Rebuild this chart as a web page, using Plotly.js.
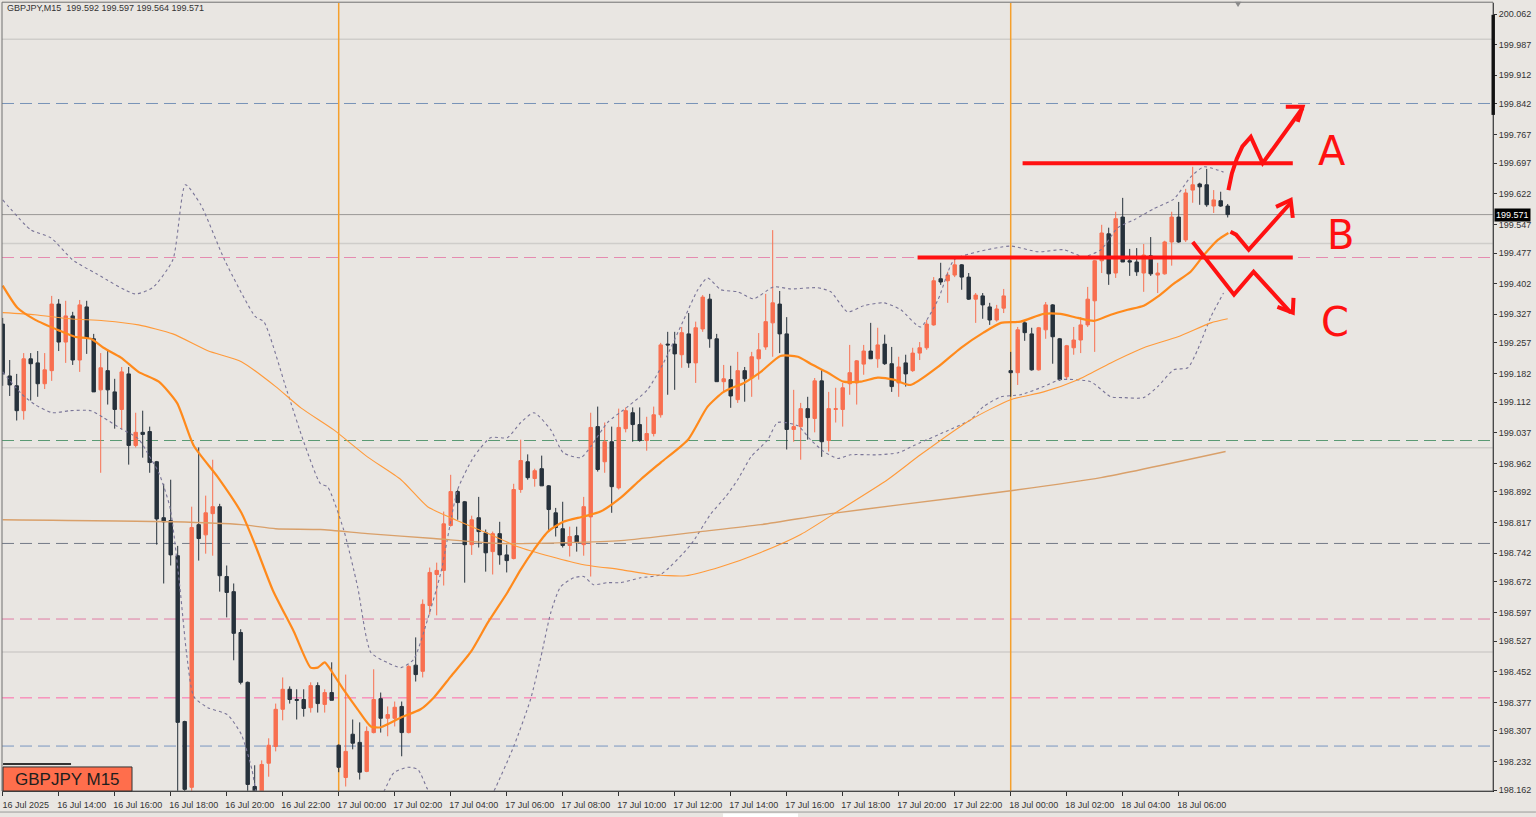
<!DOCTYPE html>
<html>
<head>
<meta charset="utf-8">
<script src="https://cdn.plot.ly/plotly-3.0.1.min.js"></script>
<style>
  html, body { margin: 0; padding: 0; background: #e9e6e2; }
  #chart { width: 1536px; height: 817px; }
</style>
</head>
<body>
<div id="chart"></div>
<script>
// ---------- Data (GBPJPY M15, bars from 16 Jul 2025 12:00) ----------
const OPEN = [199.303,199.176,199.152,199.091,199.218,199.208,199.157,199.189,199.352,199.259,
199.323,199.215,199.345,199.267,199.142,199.189,199.137,199.094,199.181,199.006,
199.038,199.040,198.966,198.829,198.822,198.736,198.330,198.169,198.812,198.787,
198.839,198.856,198.685,198.648,198.548,198.426,198.171,198.146,198.228,198.269,
198.360,198.409,198.384,198.384,198.364,198.418,198.372,198.401,198.272,198.193,
198.299,198.279,198.208,198.303,198.386,198.338,198.338,198.367,198.303,198.468,
198.453,198.614,198.690,198.700,198.810,198.893,198.868,198.763,198.829,198.792,
198.746,198.790,198.738,198.729,198.898,198.966,198.925,198.949,198.907,198.841,
198.802,198.761,198.785,198.763,198.831,199.052,198.966,199.015,198.902,199.047,
199.086,199.057,199.018,199.035,199.081,199.254,199.254,199.228,199.279,199.208,
199.291,199.364,199.267,199.162,199.167,199.118,199.189,199.171,199.218,199.247,
199.306,199.352,199.279,199.045,199.052,199.096,199.072,199.164,199.018,199.094,
199.094,199.157,199.159,199.205,199.237,199.218,199.254,199.206,199.159,199.208,
199.189,199.232,199.245,199.301,199.414,199.409,199.423,199.448,199.418,199.364,
199.372,199.345,199.313,199.342,199.189,199.184,199.306,199.279,199.191,199.289,
199.350,199.267,199.174,199.245,199.264,199.301,199.360,199.458,199.524,199.428,
199.565,199.458,199.455,199.428,199.470,199.423,199.426,199.504,199.565,199.509,
199.631,199.646,199.644,199.592,199.605,199.592];
const HIGH = [199.318,199.215,199.181,199.232,199.232,199.237,199.232,199.372,199.364,199.360,
199.333,199.362,199.360,199.279,199.232,199.240,199.169,199.198,199.198,199.086,
199.091,199.052,198.968,198.912,198.922,198.760,198.332,198.856,199.001,198.883,
198.971,198.863,198.712,198.668,198.556,198.428,198.223,198.235,198.289,198.374,
198.438,198.416,198.409,198.409,198.426,198.426,198.409,198.475,198.274,198.445,
198.335,198.328,198.318,198.458,198.401,198.367,198.379,198.379,198.468,198.536,
198.629,198.707,198.719,198.844,198.934,198.898,198.870,198.834,198.880,198.800,
198.795,198.819,198.763,198.912,199.020,198.984,198.949,198.981,198.909,198.853,
198.868,198.807,198.807,198.880,199.086,199.101,199.062,199.052,199.096,199.099,
199.099,199.099,199.076,199.101,199.257,199.284,199.284,199.296,199.330,199.309,
199.374,199.377,199.279,199.203,199.201,199.235,199.198,199.235,199.281,199.377,
199.533,199.384,199.320,199.142,199.110,199.125,199.171,199.193,199.137,199.147,
199.159,199.252,199.215,199.252,199.306,199.294,199.277,199.247,199.223,199.228,
199.245,199.259,199.313,199.418,199.453,199.431,199.468,199.450,199.428,199.379,
199.379,199.355,199.350,199.389,199.235,199.296,199.311,199.294,199.296,199.357,
199.352,199.269,199.252,199.296,199.320,199.394,199.460,199.546,199.539,199.578,
199.612,199.487,199.489,199.499,199.516,199.453,199.507,199.578,199.602,199.634,
199.688,199.649,199.683,199.631,199.627,199.597];
const LOW = [199.152,199.127,199.067,199.069,199.116,199.125,199.144,199.164,199.237,199.208,
199.203,199.186,199.230,199.137,198.939,199.106,199.047,199.045,198.959,199.001,
198.976,198.939,198.763,198.668,198.712,198.146,198.115,198.115,198.724,198.741,
198.736,198.648,198.585,198.480,198.421,198.134,198.139,198.130,198.195,198.257,
198.333,198.374,198.335,198.342,198.352,198.352,198.352,198.382,198.206,198.171,
198.262,198.188,198.206,198.301,198.303,198.294,198.318,198.245,198.301,198.428,
198.438,198.592,198.590,198.663,198.807,198.824,198.670,198.738,198.756,198.697,
198.690,198.714,198.695,198.727,198.890,198.922,198.905,198.907,198.795,198.783,
198.756,198.734,198.746,198.736,198.685,198.942,198.939,198.841,198.898,199.038,
199.015,199.015,198.993,199.028,199.074,199.130,199.142,199.196,199.196,199.159,
199.284,199.245,199.162,199.135,199.098,199.110,199.113,199.125,199.167,199.240,
199.223,199.232,198.996,199.015,198.971,199.020,199.038,198.978,198.991,199.062,
199.052,199.130,199.106,199.179,199.218,199.196,199.203,199.137,199.125,199.150,
199.186,199.215,199.240,199.299,199.399,199.355,199.418,199.387,199.362,199.306,
199.316,199.301,199.309,199.330,199.125,199.154,199.262,199.189,199.189,199.267,
199.206,199.164,199.167,199.228,199.232,199.296,199.235,199.428,199.399,199.416,
199.455,199.421,199.421,199.382,199.421,199.379,199.424,199.446,199.502,199.504,
199.600,199.595,199.590,199.575,199.590,199.564];
const CLOSE = [199.181,199.154,199.091,199.218,199.206,199.157,199.191,199.352,199.259,199.323,
199.215,199.350,199.269,199.137,199.196,199.142,199.094,199.186,199.006,199.038,
199.033,198.964,198.826,198.819,198.738,198.328,198.164,198.805,198.778,198.841,
198.856,198.687,198.646,198.546,198.426,198.176,198.149,198.225,198.272,198.360,
198.409,198.384,198.382,198.362,198.418,198.374,198.401,198.382,198.218,198.257,
198.277,198.206,198.306,198.384,198.338,198.347,198.365,198.303,198.465,198.445,
198.617,198.695,198.700,198.814,198.893,198.866,198.763,198.824,198.795,198.743,
198.790,198.738,198.724,198.898,198.969,198.927,198.944,198.907,198.849,198.805,
198.761,198.783,198.768,198.856,199.050,198.947,199.015,198.905,199.050,199.091,
199.057,199.018,199.035,199.081,199.252,199.252,199.230,199.282,199.208,199.294,
199.369,199.267,199.162,199.169,199.127,199.189,199.169,199.223,199.240,199.309,
199.355,199.279,199.045,199.052,199.096,199.074,199.164,199.015,199.096,199.096,
199.147,199.184,199.213,199.237,199.218,199.252,199.206,199.150,199.198,199.181,
199.232,199.245,199.303,199.409,199.406,199.423,199.448,199.418,199.364,199.374,
199.350,199.313,199.340,199.372,199.184,199.289,199.282,199.191,199.294,199.350,
199.272,199.167,199.250,199.264,199.301,199.364,199.458,199.526,199.426,199.561,
199.455,199.455,199.431,199.472,199.426,199.428,199.504,199.565,199.504,199.624,
199.644,199.639,199.595,199.607,199.592,199.571];

// time axis labels, one every 8 bars (2 hours)
const TIME_LABELS = ['16 Jul 2025','16 Jul 14:00','16 Jul 16:00','16 Jul 18:00','16 Jul 20:00','16 Jul 22:00',
'17 Jul 00:00','17 Jul 02:00','17 Jul 04:00','17 Jul 06:00','17 Jul 08:00','17 Jul 10:00','17 Jul 12:00',
'17 Jul 14:00','17 Jul 16:00','17 Jul 18:00','17 Jul 20:00','17 Jul 22:00','18 Jul 00:00','18 Jul 02:00',
'18 Jul 04:00','18 Jul 06:00'];
const PRICE_TICKS = [200.062,199.987,199.912,199.842,199.767,199.697,199.622,199.547,199.477,199.402,
199.327,199.257,199.182,199.112,199.037,198.962,198.892,198.817,198.742,198.672,198.597,198.527,
198.452,198.377,198.307,198.232,198.162];

// indicators (bar index, price)
const MA_FAST_X = [0,2.1,4.6,8.1,10.3,12.6,14.4,16.9,19.4,22.3,24.9,27.3,30.7,34.1,36.1,38.6,41.6,44,45,46,47.1,48.7,50.7,52.6,54,56.9,59.7,61.6,64,66.9,69.3,72.1,74,75.9,77.9,80.1,83,85.4,88.3,91.1,94,97.9,100.7,103,105.9,108.3,111.1,113.6,115.4,117.9,120.1,122.6,125,127.3,129.7,133.6,136.9,140.1,142.6,145.4,148.7,151.1,153.6,155.9,158.3,160.7,163,165,167.3,169.7,171.6,173.6,175.1];
const MA_FAST_Y = [199.397,199.343,199.314,199.287,199.272,199.267,199.245,199.221,199.186,199.162,199.110,199.005,198.929,198.841,198.761,198.651,198.550,198.462,198.462,198.475,198.450,198.408,198.360,198.318,198.316,198.340,198.360,198.389,198.440,198.501,198.572,198.646,198.702,198.751,198.795,198.819,198.832,198.844,198.878,198.922,198.964,199.020,199.101,199.137,199.159,199.186,199.225,199.223,199.206,199.184,199.162,199.162,199.172,199.167,199.154,199.198,199.245,199.282,199.306,199.309,199.328,199.328,199.318,199.311,199.326,199.338,199.348,199.370,199.402,199.431,199.472,199.509,199.526];
const MA_MID_X = [0,4.6,9.6,14.4,19.4,24.3,29.3,34.1,39,42.6,47.3,52.1,56.9,60.7,64,68.7,73.6,78.3,83,88.3,92.6,97.6,102.6,108.3,114,119.7,126.4,131.1,138.3,144,148.7,153.6,158.3,163,167.9,172.6,175];
const MA_MID_Y = [199.331,199.326,199.316,199.311,199.301,199.279,199.238,199.211,199.150,199.098,199.044,198.978,198.922,198.856,198.829,198.795,198.758,198.734,198.714,198.702,198.690,198.687,198.709,198.744,198.788,198.849,198.922,198.983,199.069,199.118,199.137,199.167,199.208,199.245,199.272,199.306,199.316];
const MA_SLOW_X = [0,24.3,34.1,39,45.4,52.1,61.6,71.1,80.7,88.3,99.7,108.3,118.3,128.3,144,156.9,174.7];
const MA_SLOW_Y = [198.824,198.819,198.812,198.802,198.800,198.790,198.778,198.766,198.768,198.773,198.795,198.812,198.839,198.861,198.895,198.927,198.991];
const BB_UP_X = [0,4,6.9,10,13.4,18.9,21.4,24.3,26.1,28.3,31.7,36.1,37.3,40.6,43,45.4,46.4,48.7,50.7,52.6,55,56.9,58.7,60.7,62.6,65,67.3,69.7,72.1,74,75.9,78.3,80.1,82.6,84,86.4,89.3,92.1,94.4,97.3,99.3,100.7,102.6,105,107.3,110.1,112.6,116.4,118.3,120.7,123,125.9,128.3,131.1,133.6,135.9,139.3,144,147.9,151.6,154.4,156.9,159.3,161.6,164.4,167.3,169.7,171.6,174.4];
const BB_UP_Y = [199.607,199.534,199.514,199.460,199.426,199.377,199.392,199.460,199.644,199.595,199.460,199.321,199.309,199.140,199.015,198.912,198.905,198.800,198.660,198.499,198.474,198.462,198.482,198.580,198.695,198.898,198.978,199.025,199.025,199.062,199.086,199.044,198.988,198.976,199.003,199.062,199.101,199.142,199.208,199.314,199.387,199.416,199.387,199.382,199.365,199.394,199.389,199.392,199.382,199.333,199.348,199.355,199.338,199.296,199.362,199.460,199.480,199.494,199.480,199.485,199.468,199.485,199.539,199.558,199.585,199.609,199.663,199.688,199.675];
const BB_LO_X = [0,2.7,4.6,7.1,9.6,12.6,14.4,16.9,19.4,20.9,22.3,23.9,25.3,26.3,27.3,29.3,32.1,34.1,35.6,36.4,42,49,54.4,55.9,57.9,59.3,60.7,64,67,70.1,73,75.4,76.9,78.3,79.7,81.6,83,84.4,86.4,88.3,91.1,94,98.3,101.1,103.3,105,106.9,109.3,110.7,113.6,115.4,117.3,119.3,121.1,125,127.9,130.1,131.1,134.7,138.3,140.1,142.6,145.4,148.7,151.1,155.4,158.3,160.1,163,165,167.3,169.3,170.7,172.6,174.4];
const BB_LO_Y = [199.186,199.132,199.106,199.086,199.091,199.091,199.074,199.047,199.022,198.981,198.939,198.854,198.660,198.492,198.391,198.364,198.347,198.298,198.213,198.147,197.990,197.980,198.157,198.205,198.218,198.213,198.164,198.060,198.060,198.157,198.269,198.384,198.489,198.597,198.660,198.682,198.685,198.665,198.670,198.670,198.682,198.690,198.763,198.837,198.881,198.922,198.978,199.020,199.062,199.054,199.020,198.991,198.974,198.983,198.983,198.988,199.005,199.013,199.040,199.069,199.101,199.125,199.130,199.150,199.167,199.162,199.125,199.123,199.123,199.150,199.191,199.196,199.240,199.321,199.379];

// horizontal levels
const DASH_LEVELS = [199.843,199.466,199.018,198.766,198.581,198.388,198.270];
const ROUND_LEVELS = [200.0,199.5,199.0,198.5];
const BID_PRICE = 199.571;
const DAY_START_BARS = [48,144];

// hand-drawn scenario marks (bar index, price)
const LINE_A_X = [145.7,184.3], LINE_A_Y = [199.697,199.697];
const LINE_BC_X = [130.7,184.3], LINE_BC_Y = [199.466,199.466];
const PATH_A_X = [175.1,175.6,176.3,177.1,178.3,180,185.7], PATH_A_Y = [199.631,199.672,199.708,199.738,199.761,199.697,199.832];
const HEAD_A_X = [183.3,185.7,185.0], HEAD_A_Y = [199.835,199.835,199.798];
const PATH_B_X = [175.4,176.2,178,184], PATH_B_Y = [199.529,199.522,199.485,199.600];
const HEAD_B_X = [181.9,184,184.3], HEAD_B_Y = [199.590,199.607,199.563];
const PATH_C_X = [170,175.9,178.7,184], PATH_C_Y = [199.504,199.375,199.431,199.331];
const HEAD_C_X = [182.1,184.3,184.4], HEAD_C_Y = [199.345,199.331,199.367];
const LETTERS = ['A','B','C'];
const LETTER_X = [189.9,191.1,190.3], LETTER_Y = [199.726,199.520,199.307];

// ---------- Build chart ----------
const BAR_INDEX = OPEN.map((_, i) => i);
const BULL = '#f86f50', BEAR = '#27323c', RED = '#ff1111';
const FONT = 'Liberation Sans, Arial, sans-serif';

const traces = [];
traces.push({
  type: 'candlestick', x: BAR_INDEX, open: OPEN, high: HIGH, low: LOW, close: CLOSE,
  increasing: { line: { color: BULL, width: 1 }, fillcolor: BULL },
  decreasing: { line: { color: BEAR, width: 1 }, fillcolor: BEAR },
  whiskerwidth: 0, hoverinfo: 'skip', showlegend: false
});
function line(x, y, color, width, dash) {
  return { type: 'scatter', mode: 'lines', x: x, y: y, hoverinfo: 'skip', showlegend: false,
           line: { color: color, width: width, dash: dash || 'solid', shape: 'spline', smoothing: 0.6 } };
}
traces.push(line(BB_UP_X, BB_UP_Y, '#7a7598', 1.1, '3px,3px'));
traces.push(line(BB_LO_X, BB_LO_Y, '#7a7598', 1.1, '3px,3px'));
traces.push(line(MA_SLOW_X, MA_SLOW_Y, '#d9a06a', 1.4));
traces.push(line(MA_MID_X, MA_MID_Y, '#ff9a3a', 1.1));
traces.push(line(MA_FAST_X, MA_FAST_Y, '#ff8a1c', 2.2));

function redLine(x, y) {
  return { type: 'scatter', mode: 'lines', x: x, y: y, hoverinfo: 'skip', showlegend: false,
           line: { color: RED, width: 4 } };
}
traces.push(redLine(LINE_A_X, LINE_A_Y));
traces.push(redLine(LINE_BC_X, LINE_BC_Y));
traces.push(redLine(PATH_A_X, PATH_A_Y));
traces.push(redLine(HEAD_A_X, HEAD_A_Y));
traces.push(redLine(PATH_B_X, PATH_B_Y));
traces.push(redLine(HEAD_B_X, HEAD_B_Y));
traces.push(redLine(PATH_C_X, PATH_C_Y));
traces.push(redLine(HEAD_C_X, HEAD_C_Y));

const DASH_COLORS = ['#7893b8','#e58bb0','#5a9a74','#737a86','#e07ca4','#ff6aa9','#7896c0'];
const shapes = [];
ROUND_LEVELS.forEach(p => shapes.push({ type: 'line', xref: 'paper', x0: 0, x1: 1, yref: 'y', y0: p, y1: p,
  line: { color: '#cfcdca', width: 1.5 }, layer: 'below' }));
DASH_LEVELS.forEach((p, k) => shapes.push({ type: 'line', xref: 'paper', x0: 0, x1: 1, yref: 'y', y0: p, y1: p,
  line: { color: DASH_COLORS[k], width: 1, dash: '12px,6px' }, layer: 'below' }));
shapes.push({ type: 'line', xref: 'paper', x0: 0, x1: 1, yref: 'y', y0: BID_PRICE, y1: BID_PRICE,
  line: { color: '#9a9896', width: 1 }, layer: 'below' });
DAY_START_BARS.forEach(b => shapes.push({ type: 'line', xref: 'x', x0: b, x1: b, yref: 'paper', y0: 0, y1: 1,
  line: { color: '#f5a02c', width: 1.5 }, layer: 'below' }));
// frame
shapes.push({ type: 'rect', xref: 'paper', yref: 'paper', x0: 0, x1: 1, y0: 0, y1: 1.001,
  line: { color: '#707070', width: 1 }, fillcolor: 'rgba(0,0,0,0)', layer: 'above' });
// symbol label box
shapes.push({ type: 'rect', xref: 'paper', yref: 'paper', x0: 0.0007, x1: 0.0872, y0: 0.0, y1: 0.0305,
  line: { color: '#333', width: 1 }, fillcolor: '#ff6e4c', layer: 'above' });
shapes.push({ type: 'rect', xref: 'paper', yref: 'paper', x0: 0.0007, x1: 0.0463, y0: 0.0330, y1: 0.0355,
  line: { width: 0 }, fillcolor: '#333', layer: 'above' });
// price-scale bar
shapes.push({ type: 'rect', xref: 'paper', yref: 'paper', x0: 0.9990, x1: 1.0013, y0: 0.858, y1: 0.985,
  line: { width: 0 }, fillcolor: '#111', layer: 'above' });
// small shift marker
shapes.push({ type: 'path', xref: 'paper', yref: 'paper', path: 'M 0.8268 1.0015 L 0.8312 1.0015 L 0.8290 0.9950 Z',
  fillcolor: '#8a8a8a', line: { width: 0 }, layer: 'above' });
// footer
shapes.push({ type: 'line', xref: 'paper', yref: 'paper', x0: -0.0014, x1: 1.0288, y0: -0.0267, y1: -0.0267,
  line: { color: '#9a9a9a', width: 1 } });
shapes.push({ type: 'rect', xref: 'paper', yref: 'paper', x0: 0.4836, x1: 0.5339, y0: -0.0285, y1: -0.034,
  line: { width: 0 }, fillcolor: '#ffffff' });

const annotations = [];
annotations.push({ xref: 'paper', yref: 'paper', x: 0.002, y: 0.9937, xanchor: 'left', yanchor: 'middle',
  text: 'GBPJPY,M15\u00a0\u00a0199.592 199.597 199.564 199.571', showarrow: false,
  font: { family: FONT, size: 9, color: '#333' } });
annotations.push({ xref: 'paper', yref: 'paper', x: 0.0436, y: 0.0152, xanchor: 'center', yanchor: 'middle',
  text: 'GBPJPY M15', showarrow: false, font: { family: FONT, size: 17, color: '#1e1e1e' } });
annotations.push({ xref: 'paper', yref: 'y', x: 1.0008, y: BID_PRICE, xanchor: 'left', yanchor: 'middle',
  text: BID_PRICE.toFixed(3), showarrow: false, bgcolor: '#000', borderpad: 1,
  font: { family: FONT, size: 9, color: '#fff' } });
LETTERS.forEach((t, k) => annotations.push({ xref: 'x', yref: 'y', x: LETTER_X[k], y: LETTER_Y[k],
  text: t, showarrow: false, font: { family: 'DejaVu Sans, sans-serif', size: 40, color: RED } }));

const layout = {
  width: 1536, height: 817,
  margin: { l: 2, r: 43, t: 3, b: 26 },
  paper_bgcolor: '#e9e6e2', plot_bgcolor: '#e9e6e2',
  showlegend: false, hovermode: false, dragmode: false,
  font: { family: FONT, size: 9, color: '#333' },
  xaxis: {
    range: [-0.1, 212.9], fixedrange: true, showgrid: false, zeroline: false,
    rangeslider: { visible: false },
    tickmode: 'array', tickvals: TIME_LABELS.map((_, k) => k * 8), ticktext: TIME_LABELS,
    ticks: 'outside', ticklen: 4, tickcolor: '#333', showline: true, linecolor: '#222', linewidth: 1,
    tickfont: { family: FONT, size: 9, color: '#333' }, ticklabelshift: 23, ticklabelstandoff: 1
  },
  yaxis: {
    side: 'right', range: [198.160, 200.089], fixedrange: true, showgrid: false, zeroline: false,
    tickmode: 'array', tickvals: PRICE_TICKS, ticktext: PRICE_TICKS.map(v => v.toFixed(3)),
    ticks: 'outside', ticklen: 3, tickcolor: '#333', showline: true, linecolor: '#222', linewidth: 1,
    tickfont: { family: FONT, size: 9, color: '#333' }
  },
  shapes: shapes, annotations: annotations
};

Plotly.newPlot('chart', traces, layout, { staticPlot: true, displayModeBar: false });
</script>
</body>
</html>
